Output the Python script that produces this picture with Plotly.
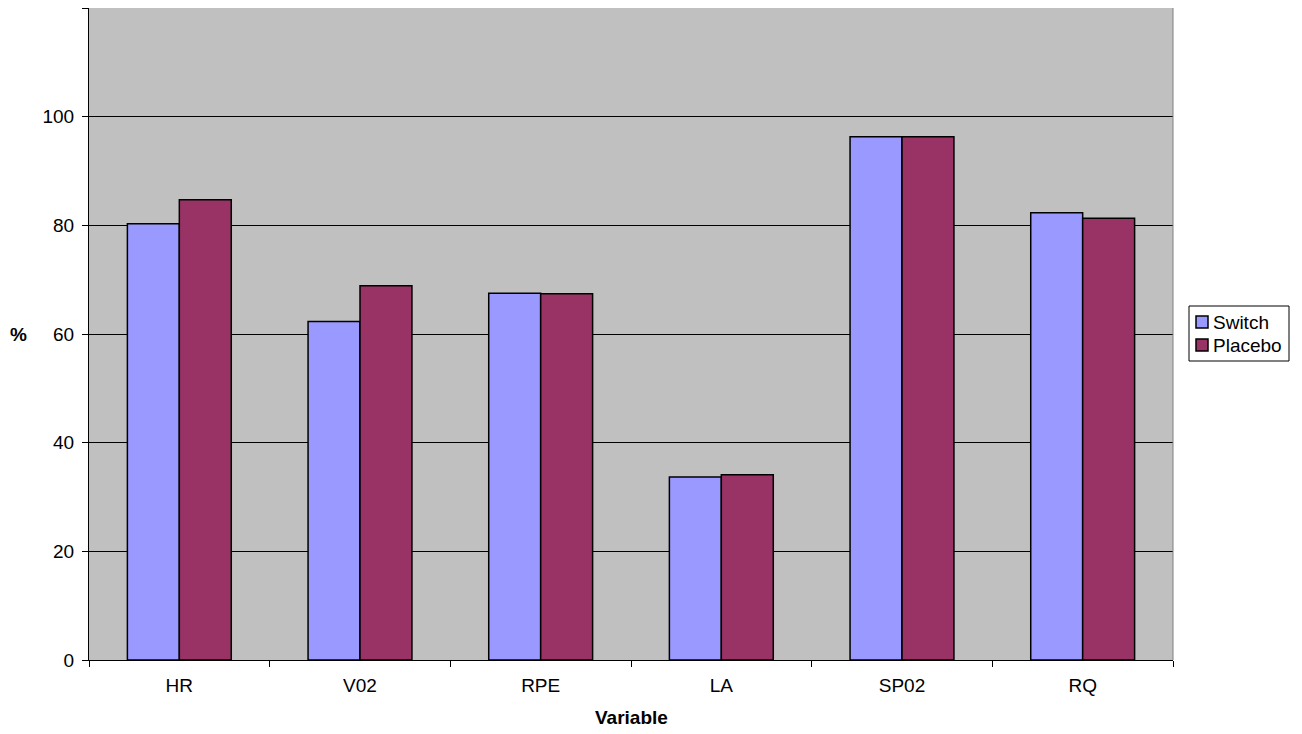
import plotly.graph_objects as go

# Data
variables = ['HR', 'V02', 'RPE', 'LA', 'SP02', 'RQ']
switch = [80.3, 62.3, 67.5, 33.7, 96.3, 82.3]
placebo = [84.7, 68.9, 67.4, 34.1, 96.3, 81.3]
y_ticks = [0, 20, 40, 60, 80, 100, 120]
y_labels = ['0', '20', '40', '60', '80', '100', '']
series_names = ['Switch', 'Placebo']
series_colors = ['#9999FF', '#993366']

font = 'Liberation Sans, Arial, sans-serif'
# page body has an 8px margin, so the figure is drawn 8px in from the window edge
OFF = 8
W, H = 1302 - OFF, 734 - OFF
L, T = 89 - OFF, 8 - OFF
R = W - (1173 - OFF)
B = H - (660 - OFF)
pw, ph = W - L - R, H - T - B


def px_x(x):
    return (x - OFF - L) / pw


def px_y(y):
    return (H - B - (y - OFF)) / ph


fig = go.Figure()
for name, vals, col in zip(series_names, [switch, placebo], series_colors):
    fig.add_trace(go.Bar(x=variables, y=vals, name=name,
                         marker=dict(color=col, line=dict(color='black', width=1.5))))

fig.update_layout(
    width=W, height=H,
    margin=dict(l=L, r=R, t=T, b=B),
    paper_bgcolor='white', plot_bgcolor='#C0C0C0',
    font=dict(family=font, size=19, color='black'),
    barmode='group', bargap=0.425, bargroupgap=0,
    showlegend=False,
)
fig.update_xaxes(
    automargin=False,
    tickson='boundaries', ticks='outside', ticklen=6, tickcolor='black',
    showline=True, linecolor='black', linewidth=1, showgrid=False,
    tickfont=dict(size=19), ticklabelstandoff=8,
)
fig.update_yaxes(
    automargin=False,
    range=[0, 120], tickvals=y_ticks, ticktext=y_labels,
    ticks='outside', ticklen=6, tickcolor='black',
    showline=True, linecolor='black', linewidth=1,
    showgrid=True, gridcolor='black', gridwidth=1,
    tickfont=dict(size=19), zeroline=False, ticklabelstandoff=4,
)

# axis titles
fig.add_annotation(text='<b>%</b>', xref='paper', yref='paper',
                   x=px_x(18), y=px_y(334), showarrow=False,
                   xanchor='center', yanchor='middle', font=dict(size=19))
fig.add_annotation(text='<b>Variable</b>', xref='paper', yref='paper',
                   x=0.5, y=px_y(717), showarrow=False,
                   xanchor='center', yanchor='middle', font=dict(size=19))

# thin gray border on right of plot area
fig.add_shape(type='line', xref='paper', yref='paper', x0=1, x1=1, y0=0, y1=1,
              line=dict(color='#808080', width=1))

# legend box
fig.add_shape(type='rect', xref='paper', yref='paper',
              x0=px_x(1189), x1=px_x(1289), y0=px_y(306), y1=px_y(361),
              line=dict(color='black', width=1), fillcolor='white')
for i, (name, col) in enumerate(zip(series_names, series_colors)):
    cy = 322 + i * 23
    fig.add_shape(type='rect', xref='paper', yref='paper',
                  x0=px_x(1196), x1=px_x(1208), y0=px_y(cy - 6), y1=px_y(cy + 6),
                  line=dict(color='black', width=1.5), fillcolor=col)
    fig.add_annotation(text=name, xref='paper', yref='paper',
                       x=px_x(1211), y=px_y(cy), showarrow=False,
                       xanchor='left', yanchor='middle', font=dict(size=19))

fig.write_html('out.html')
